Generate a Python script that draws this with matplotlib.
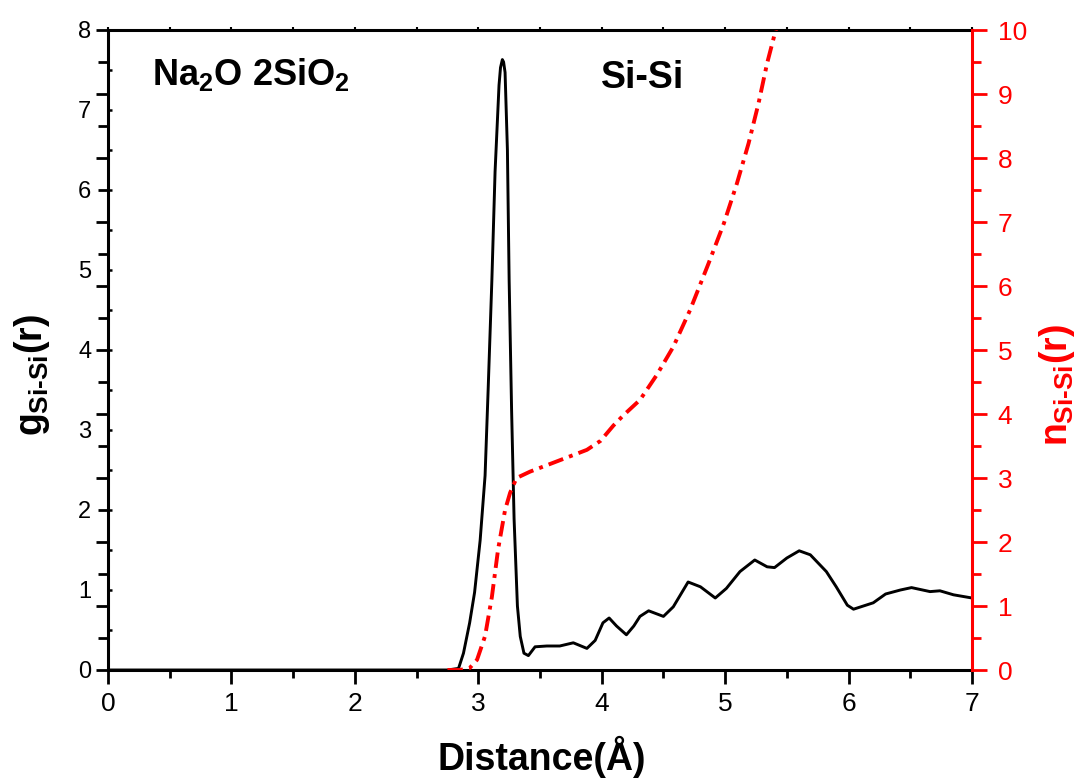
import matplotlib
matplotlib.use('Agg')
import matplotlib.pyplot as plt
from matplotlib.ticker import MultipleLocator

plt.rcParams['font.family'] = ['Liberation Sans', 'DejaVu Sans']
plt.rcParams['mathtext.fontset'] = 'custom'
plt.rcParams['mathtext.rm'] = 'Liberation Sans:bold'
plt.rcParams['mathtext.it'] = 'Liberation Sans:bold'
plt.rcParams['mathtext.bf'] = 'Liberation Sans:bold'
plt.rcParams['mathtext.sf'] = 'Liberation Sans:bold'

# g_Si-Si(r) (left axis)
r_g = [0.0, 2.75, 2.84, 2.88, 2.93, 2.97, 3.015, 3.055, 3.08, 3.11, 3.136, 3.168,
       3.18, 3.195, 3.205, 3.217, 3.236, 3.25, 3.27, 3.29, 3.317, 3.34, 3.37, 3.406,
       3.46, 3.555, 3.66, 3.77, 3.88, 3.947, 4.01, 4.06, 4.12, 4.20, 4.26, 4.31,
       4.38, 4.50, 4.58, 4.70, 4.80, 4.92, 5.01, 5.12, 5.24, 5.34, 5.40, 5.50,
       5.60, 5.69, 5.82, 5.90, 5.99, 6.04, 6.20, 6.30, 6.42, 6.51, 6.66, 6.74,
       6.85, 7.0]
g_vals = [0.0, 0.0, 0.02, 0.21, 0.59, 0.97, 1.62, 2.43, 3.51, 4.87, 6.23, 7.31,
          7.53, 7.63, 7.60, 7.47, 6.50, 4.87, 3.24, 1.89, 0.80, 0.42, 0.21, 0.18,
          0.29, 0.30, 0.30, 0.34, 0.27, 0.37, 0.59, 0.65, 0.55, 0.44, 0.55, 0.67,
          0.74, 0.67, 0.79, 1.10, 1.04, 0.90, 1.02, 1.23, 1.375, 1.29, 1.28, 1.40,
          1.49, 1.44, 1.23, 1.04, 0.81, 0.76, 0.84, 0.95, 1.00, 1.03, 0.98, 0.99,
          0.94, 0.90]

# n_Si-Si(r) (right axis)
r_n = [2.75, 2.85, 2.93, 2.99, 3.055, 3.11, 3.16, 3.217, 3.258, 3.31, 3.42, 3.61,
       3.88, 3.99, 4.095, 4.176, 4.31, 4.446, 4.58, 4.716, 4.865, 4.99, 5.095,
       5.19, 5.27, 5.34, 5.41, 5.45]
n_vals = [0.0, 0.0, 0.03, 0.16, 0.53, 1.14, 1.88, 2.50, 2.77, 3.00, 3.10, 3.24,
          3.44, 3.58, 3.82, 3.98, 4.22, 4.61, 5.05, 5.625, 6.35, 6.98, 7.60,
          8.23, 8.85, 9.48, 10.0, 10.4]

x_ticks = [0, 1, 2, 3, 4, 5, 6, 7]
left_ticks = [0, 1, 2, 3, 4, 5, 6, 7, 8]
right_ticks = [0, 1, 2, 3, 4, 5, 6, 7, 8, 9, 10]

W, H = 1086, 778
fig = plt.figure(figsize=(W / 100, H / 100), dpi=100)
ax = fig.add_axes([108 / W, 108 / H, 864 / W, 640 / H])
ax3 = ax.twinx()   # outward ticks on the left spine (right-axis scale)
ax2 = ax.twinx()   # red right axis

ax.plot(r_g, g_vals, color='black', lw=2.1, zorder=3, solid_joinstyle='round')
ax2.plot(r_n, n_vals, color='red', lw=2.8, linestyle=(0, (4, 1.6, 1.0, 1.6)),
         zorder=2)

ax.set_xlim(0, 7)
ax.set_ylim(0, 8)
ax2.set_ylim(0, 10)
ax3.set_ylim(0, 10)

ax.set_xticks(x_ticks)
ax.set_yticks(left_ticks)
ax2.set_yticks(right_ticks)
ax3.set_yticks(right_ticks)
ax.xaxis.set_minor_locator(MultipleLocator(0.5))
ax.yaxis.set_minor_locator(MultipleLocator(0.5))
ax2.yaxis.set_minor_locator(MultipleLocator(0.5))
ax3.yaxis.set_minor_locator(MultipleLocator(0.5))

for s in ['left', 'bottom', 'top']:
    ax.spines[s].set_linewidth(2.2)
    ax.spines[s].set_color('black')
ax.spines['right'].set_visible(False)
for a in (ax2, ax3):
    for s in ['left', 'bottom', 'top', 'right']:
        a.spines[s].set_visible(False)
ax2.spines['right'].set_visible(True)
ax2.spines['right'].set_color('red')
ax2.spines['right'].set_linewidth(2.2)

# bottom axis
ax.tick_params(axis='x', which='major', direction='out', length=10, width=2,
               labelsize=19, pad=6, top=False)
ax.tick_params(axis='x', which='minor', direction='out', length=6, width=2,
               top=False)
# faint top ticks
ax.tick_params(axis='x', which='both', top=True, labeltop=False)
for t in ax.xaxis.get_major_ticks() + ax.xaxis.get_minor_ticks():
    t.tick2line.set_color('#c8c8c8')
    t.tick2line.set_markersize(2.5)
    t.tick2line.set_markeredgewidth(1.5)

# left axis: small inward ticks + labels
ax.tick_params(axis='y', which='major', direction='in', length=3, width=1.8,
               labelsize=17, pad=12, right=False)
ax.tick_params(axis='y', which='minor', direction='in', length=3, width=1.8,
               right=False)
# left spine outward ticks (at right-axis positions)
ax3.tick_params(axis='y', which='major', left=True, right=False, labelleft=False,
                labelright=False, direction='out', length=9, width=2,
                colors='black')
ax3.tick_params(axis='y', which='minor', left=True, right=False,
                direction='out', length=7, width=2, colors='black')

# red right axis
ax2.tick_params(axis='y', which='major', direction='out', length=10.5, width=2,
                labelsize=19, pad=8, colors='red')
ax2.tick_params(axis='y', which='minor', direction='out', length=6.5, width=2,
                colors='red')

ax.set_xlabel('Distance(Å)', fontsize=27, fontweight='bold', va='baseline')
ax.xaxis.set_label_coords(0.502, -0.156)
ax.set_ylabel(r'$g_{Si\text{-}Si}(r)$', fontsize=27, va='center', ha='center')
ax.yaxis.set_label_coords(-0.088, 0.461)
ax2.set_ylabel(r'$n_{Si\text{-}Si}(r)$', fontsize=27, color='red',
               va='center', ha='center', rotation=90)
ax2.yaxis.set_label_coords(1.098, 0.445)

ax.text(0.357, 7.31, r'$Na_2O\ 2SiO_2$', fontsize=26, va='baseline', ha='left')
ax.text(3.99, 7.275, 'Si-Si', fontsize=27, fontweight='bold', va='baseline',
        ha='left')

fig.savefig('out.png', dpi=100)
